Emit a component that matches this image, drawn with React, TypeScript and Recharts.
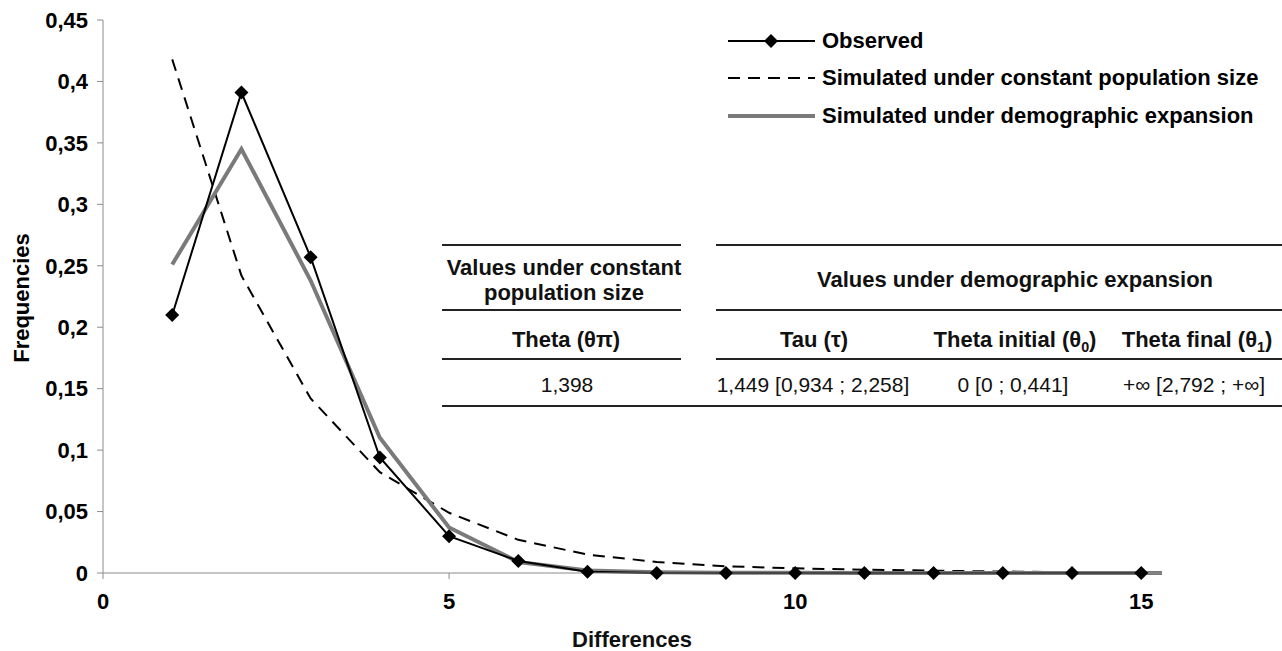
import React from "react";
import { LineChart, Line, XAxis, YAxis } from "recharts";

// mismatch distribution
const differences = [1, 2, 3, 4, 5, 6, 7, 8, 9, 10, 11, 12, 13, 14, 15];
const observed = [0.21, 0.391, 0.257, 0.094, 0.03, 0.0098, 0.001, 0, 0, 0, 0, 0, 0, 0, 0];
const simulatedConstant = [
  0.418, 0.242, 0.142, 0.082, 0.049, 0.027, 0.015, 0.009, 0.0055, 0.0038, 0.0027, 0.0019, 0.0012, 0.0007, 0.0004,
];
const simulatedExpansion = [
  0.251, 0.345, 0.238, 0.11, 0.037, 0.009, 0.002, 0.0006, 0.0003, 0.0002, 0.0001, 0.0001, 0, 0, 0,
];
// the simulated curves run on a little past the last observed class
const tailX = 15.3;

const xTicks = [0, 5, 10, 15];
const yTicks = [0, 0.05, 0.1, 0.15, 0.2, 0.25, 0.3, 0.35, 0.4, 0.45];

const legendItems = [
  "Observed",
  "Simulated under constant population size",
  "Simulated under demographic expansion",
];

const groupHeads = ["Values under constant|population size", "Values under demographic expansion"];
const paramHeads = ["Theta (θπ)", "Tau (τ)", "Theta initial (θ|0|)", "Theta final (θ|1|)"];
const paramValues = ["1,398", "1,449 [0,934 ; 2,258]", "0 [0 ; 0,441]", "+∞ [2,792 ; +∞]"];

const data = differences
  .map((x, i) => ({
    x,
    observed: observed[i],
    constant: simulatedConstant[i],
    expansion: simulatedExpansion[i],
  }))
  .concat([
    {
      x: tailX,
      observed: null as any,
      constant: simulatedConstant[simulatedConstant.length - 1],
      expansion: simulatedExpansion[simulatedExpansion.length - 1],
    },
  ]);

const FONT = "'Liberation Sans', Arial, sans-serif";
const GREY = "#7a7a7a";
const AXIS = "#8c8c8c";

const fmt = (v: number) => String(Math.round(v * 100) / 100).replace(".", ",");

function Diamond(props: any) {
  const { cx, cy, payload, index } = props;
  if (payload == null || payload.observed == null || cx == null) return <g key={index} />;
  const r = 7;
  return (
    <path
      key={index}
      d={`M${cx},${cy - r}L${cx + r},${cy}L${cx},${cy + r}L${cx - r},${cy}Z`}
      fill="#000"
    />
  );
}

// renders "a|sub|b" as text with a subscript
function withSub(s: string) {
  const parts = s.split("|");
  return parts.map((p, i) =>
    i % 2 === 1 ? (
      <sub key={i} style={{ fontSize: "0.65em", lineHeight: 0 }}>
        {p}
      </sub>
    ) : (
      <span key={i}>{p}</span>
    )
  );
}

function Cell({
  cx,
  cy,
  bold,
  size = 22,
  children,
}: {
  cx: number;
  cy: number;
  bold?: boolean;
  size?: number;
  children: React.ReactNode;
}) {
  return (
    <div
      style={{
        position: "absolute",
        left: cx - 250,
        top: cy - 13,
        width: 500,
        height: 26,
        lineHeight: "26px",
        textAlign: "center",
        fontFamily: FONT,
        fontSize: size,
        fontWeight: bold ? 700 : 400,
        color: "#111",
        whiteSpace: "nowrap",
      }}
    >
      {children}
    </div>
  );
}

function Rule({ x1, x2, y }: { x1: number; x2: number; y: number }) {
  return <div style={{ position: "absolute", left: x1, top: y - 1, width: x2 - x1, height: 1.5, background: "#222" }} />;
}

export default function App() {
  const headCols = [566, 814, 1015, 1197];
  const valueCols = [567, 813, 1013, 1194];
  return (
    <div style={{ position: "absolute", left: 0, top: 0, width: 1282, height: 651, background: "#fff" }}>
      <LineChart width={1282} height={651} data={data} margin={{ top: 20, right: 120, bottom: 0, left: 0 }}>
        <XAxis
          dataKey="x"
          type="number"
          domain={[0, tailX]}
          ticks={xTicks}
          allowDataOverflow
          stroke={AXIS}
          tickSize={6}
          tickMargin={14}
          height={78}
          tick={{ fill: "#000", fontSize: 22, fontWeight: 700, fontFamily: FONT }}
        />
        <YAxis
          type="number"
          domain={[0, 0.45]}
          ticks={yTicks}
          width={103}
          stroke={AXIS}
          tickSize={6}
          tickMargin={9}
          tickFormatter={fmt}
          tick={{ fill: "#000", fontSize: 22, fontWeight: 700, fontFamily: FONT }}
        />
        <Line
          dataKey="constant"
          stroke="#000"
          strokeWidth={2}
          strokeDasharray="12 8"
          dot={false}
          isAnimationActive={false}
        />
        <Line dataKey="expansion" stroke={GREY} strokeWidth={4} dot={false} isAnimationActive={false} />
        <Line dataKey="observed" stroke="#000" strokeWidth={2} dot={Diamond} isAnimationActive={false} />
      </LineChart>

      <div
        style={{
          position: "absolute",
          left: 22 - 100,
          top: 298 - 13,
          width: 200,
          height: 26,
          lineHeight: "26px",
          textAlign: "center",
          transform: "rotate(-90deg)",
          fontFamily: FONT,
          fontSize: 22,
          fontWeight: 700,
        }}
      >
        Frequencies
      </div>
      <Cell cx={632} cy={640} bold>
        Differences
      </Cell>

      {/* legend */}
      <svg style={{ position: "absolute", left: 0, top: 0 }} width={1282} height={140}>
        <line x1={728} x2={815} y1={41} y2={41} stroke="#000" strokeWidth={2} />
        <path d="M771,34L778,41L771,48L764,41Z" fill="#000" />
        <line x1={728} x2={815} y1={78} y2={78} stroke="#000" strokeWidth={2} strokeDasharray="12 8" />
        <line x1={728} x2={815} y1={116} y2={116} stroke={GREY} strokeWidth={4} />
      </svg>
      {legendItems.map((t, i) => (
        <div
          key={t}
          style={{
            position: "absolute",
            left: 822,
            top: [41, 78, 116][i] - 13,
            height: 26,
            lineHeight: "26px",
            fontFamily: FONT,
            fontSize: 22,
            fontWeight: 700,
            whiteSpace: "nowrap",
          }}
        >
          {t}
        </div>
      ))}

      {/* parameter table */}
      <Rule x1={442} x2={681} y={245} />
      <Rule x1={716} x2={1282} y={245} />
      <Rule x1={442} x2={681} y={310} />
      <Rule x1={716} x2={1282} y={310} />
      <Rule x1={442} x2={681} y={359} />
      <Rule x1={716} x2={1282} y={359} />
      <Rule x1={442} x2={1282} y={406} />
      <Cell cx={564} cy={268} bold>
        {groupHeads[0].split("|")[0]}
      </Cell>
      <Cell cx={564} cy={293} bold>
        {groupHeads[0].split("|")[1]}
      </Cell>
      <Cell cx={1015} cy={280} bold>
        {groupHeads[1]}
      </Cell>
      {paramHeads.map((h, i) => (
        <Cell key={h} cx={headCols[i]} cy={340} bold>
          {withSub(h)}
        </Cell>
      ))}
      {paramValues.map((v, i) => (
        <Cell key={v} cx={valueCols[i]} cy={385} size={21}>
          {v}
        </Cell>
      ))}
    </div>
  );
}
